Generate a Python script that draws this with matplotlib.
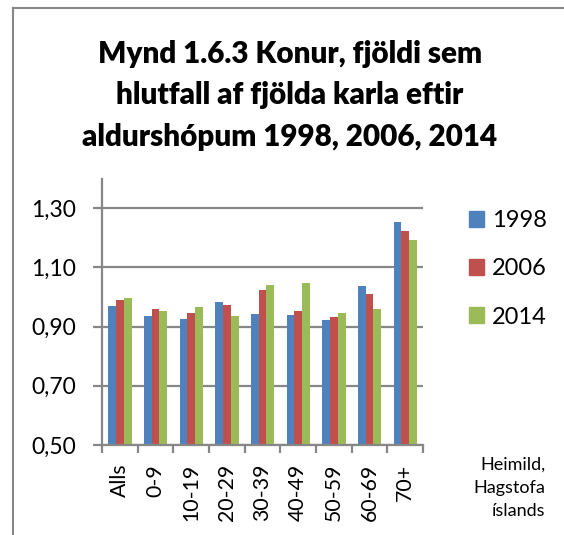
#import libraries
import numpy as np
import matplotlib
matplotlib.use('Agg')
import matplotlib.pyplot as plt
from matplotlib.lines import Line2D

#data
age_groups = ['Alls', '0-9', '10-19', '20-29', '30-39', '40-49', '50-59', '60-69', '70+']
years = ['1998', '2006', '2014']
ratio_1998 = [0.971, 0.937, 0.925, 0.984, 0.943, 0.938, 0.922, 1.038, 1.254]
ratio_2006 = [0.989, 0.960, 0.946, 0.973, 1.023, 0.952, 0.933, 1.009, 1.222]
ratio_2014 = [0.997, 0.952, 0.966, 0.937, 1.040, 1.046, 0.945, 0.959, 1.192]
ytick_values = [0.50, 0.70, 0.90, 1.10, 1.30]
ytick_labels = ['0,50', '0,70', '0,90', '1,10', '1,30']

title = 'Mynd 1.6.3 Konur, fjöldi sem\nhlutfall af fjölda karla eftir\naldurshópum 1998, 2006, 2014'
source = 'Heimild,\nHagstofa\níslands'

colors = ['#4F81BD', '#C0504D', '#9BBB59']
grid_gray = '#878787'

plt.rcParams['font.family'] = ['Lato', 'DejaVu Sans']

#figure and plot area
fig = plt.figure(figsize=(5.64, 5.35), dpi=100)
ax = fig.add_axes([0.1809, 0.1682, 0.5691, 0.4972])

x = np.arange(len(age_groups))
bw = 0.218
series = [ratio_1998, ratio_2006, ratio_2014]
for i in range(3):
    ax.bar(x + (i - 1) * bw, series[i], width=bw, bottom=0,
           color=colors[i], label=years[i], zorder=3)

#axes
ax.set_ylim(0.5, 1.399)
ax.set_xlim(-0.5, len(age_groups) - 0.5)
ax.set_yticks(ytick_values)
ax.set_yticklabels(ytick_labels, fontsize=16.5)
ax.set_xticks(x)
ax.set_xticklabels(age_groups, rotation=90, fontsize=15.3, va='top')
ax.set_xticks(np.arange(len(age_groups) + 1) - 0.5, minor=True)
ax.tick_params(axis='x', which='major', length=0, pad=13.5)
ax.tick_params(axis='x', which='minor', length=6, width=1.6, color=grid_gray)
ax.tick_params(axis='y', length=6.5, width=1.6, color=grid_gray, pad=12)

ax.yaxis.grid(True, color=grid_gray, linewidth=1.6, zorder=0)
ax.set_axisbelow(True)
for s in ['top', 'right']:
    ax.spines[s].set_visible(False)
for s in ['left', 'bottom']:
    ax.spines[s].set_color(grid_gray)
    ax.spines[s].set_linewidth(1.6)
ax.spines['bottom'].set_zorder(4)

#legend
handles = [plt.Rectangle((0, 0), 1, 1, color=c) for c in colors]
fig.legend(handles, years, loc='upper left', bbox_to_anchor=(0.831, 0.607),
           frameon=False, fontsize=17, handlelength=0.64, handleheight=0.64,
           handletextpad=0.35, labelspacing=1.15, borderaxespad=0, borderpad=0)

#title and source
fig.text(0.514, 0.926, title, ha='center', va='top', fontsize=21.3,
         fontweight='heavy', linespacing=1.6)
fig.text(0.967, 0.088, source, ha='right', va='center', fontsize=13,
         linespacing=1.55)

#chart border (left and top only visible)
fig.add_artist(Line2D([13 / 564, 13 / 564], [0, 1 - 8 / 535], color=grid_gray, lw=1.5))
fig.add_artist(Line2D([13 / 564, 1], [1 - 8 / 535, 1 - 8 / 535], color=grid_gray, lw=1.5))

fig.savefig('out.png', dpi=100)
